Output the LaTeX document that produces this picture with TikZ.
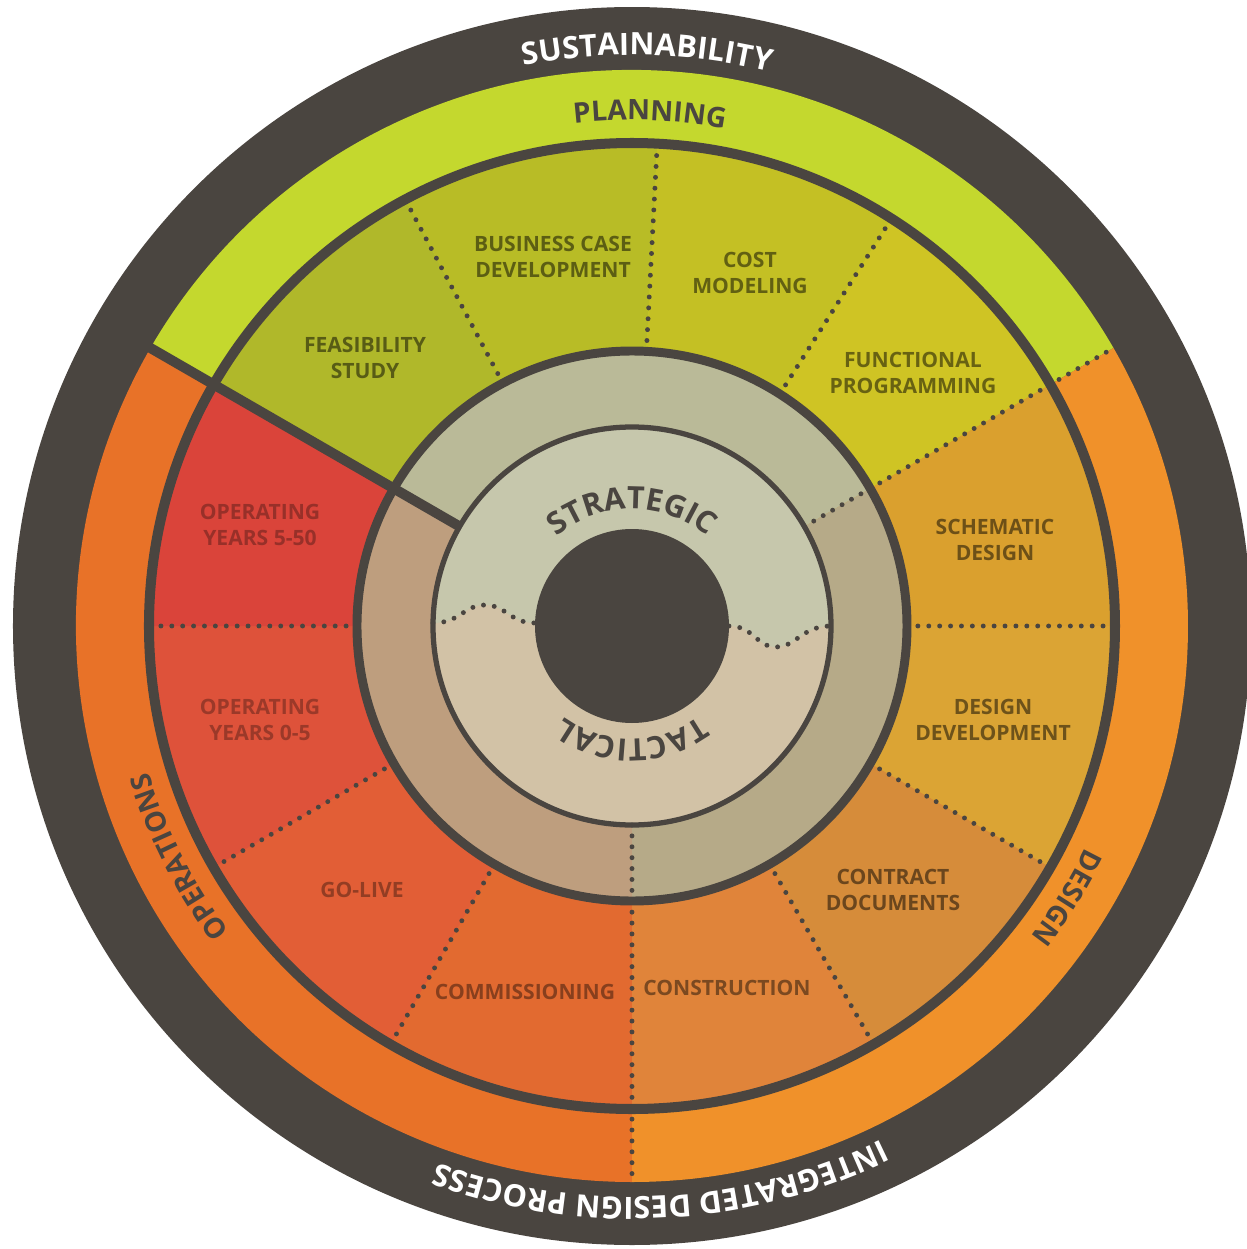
\documentclass[tikz,border=0pt]{standalone}
\usepackage{fontspec}
\setmainfont{Open Sans}
\usetikzlibrary{decorations.text}

% cores
\definecolor{escuro}{RGB}{74,69,64}
\definecolor{planning}{RGB}{196,216,46}
\definecolor{design}{RGB}{240,145,42}
\definecolor{operations}{RGB}{232,114,40}
\definecolor{feasib}{RGB}{176,184,42}
\definecolor{business}{RGB}{184,188,38}
\definecolor{cost}{RGB}{196,192,36}
\definecolor{functional}{RGB}{207,196,36}
\definecolor{schematic}{RGB}{218,160,46}
\definecolor{designdev}{RGB}{219,164,52}
\definecolor{contract}{RGB}{214,140,58}
\definecolor{construction}{RGB}{224,132,58}
\definecolor{commissioning}{RGB}{226,106,48}
\definecolor{golive}{RGB}{226,94,54}
\definecolor{opzero}{RGB}{222,82,58}
\definecolor{opfive}{RGB}{218,68,58}
\definecolor{tanupper}{RGB}{186,186,152}
\definecolor{tanright}{RGB}{182,170,136}
\definecolor{tanleft}{RGB}{190,158,126}
\definecolor{strategic}{RGB}{198,199,172}
\definecolor{tactical}{RGB}{210,194,166}

\begin{document}
\begin{tikzpicture}[x=0.02cm, y=0.02cm,
    pontos/.style={escuro, line width=2.8pt, line cap=round, dash pattern=on 0pt off 6.2pt},
    rotulo/.style={font=\bfseries\fontsize{12}{15}\selectfont, align=center}]
      \fill[white, use as bounding box] (-632,-623) rectangle (615,626);

      % Anel externo
      \fill[escuro] (0,0) circle (619);

      % Fases
      \fill[planning] (0,0) -- (30:556) arc[start angle=30, end angle=150, radius=556] -- cycle;
      \fill[design] (0,0) -- (-90:556) arc[start angle=-90, end angle=30, radius=556] -- cycle;
      \fill[operations] (0,0) -- (150:556) arc[start angle=150, end angle=270, radius=556] -- cycle;

      % Etapas
      \fill[feasib] (0,0) -- (118:483) arc[start angle=118, end angle=150, radius=483] -- cycle;
      \fill[business] (0,0) -- (87:483) arc[start angle=87, end angle=118, radius=483] -- cycle;
      \fill[cost] (0,0) -- (57.5:483) arc[start angle=57.5, end angle=87, radius=483] -- cycle;
      \fill[functional] (0,0) -- (30:483) arc[start angle=30, end angle=57.5, radius=483] -- cycle;
      \fill[schematic] (0,0) -- (0:483) arc[start angle=0, end angle=30, radius=483] -- cycle;
      \fill[designdev] (0,0) -- (-30:483) arc[start angle=-30, end angle=0, radius=483] -- cycle;
      \fill[contract] (0,0) -- (-60:483) arc[start angle=-60, end angle=-30, radius=483] -- cycle;
      \fill[construction] (0,0) -- (-90:483) arc[start angle=-90, end angle=-60, radius=483] -- cycle;
      \fill[commissioning] (0,0) -- (-120:483) arc[start angle=-120, end angle=-90, radius=483] -- cycle;
      \fill[golive] (0,0) -- (-150:483) arc[start angle=-150, end angle=-120, radius=483] -- cycle;
      \fill[opzero] (0,0) -- (180:483) arc[start angle=180, end angle=210, radius=483] -- cycle;
      \fill[opfive] (0,0) -- (150:483) arc[start angle=150, end angle=180, radius=483] -- cycle;

      % Anel do meio
      \fill[tanupper] (0,0) -- (30:275) arc[start angle=30, end angle=150, radius=275] -- cycle;
      \fill[tanright] (0,0) -- (-90:275) arc[start angle=-90, end angle=30, radius=275] -- cycle;
      \fill[tanleft] (0,0) -- (150:275) arc[start angle=150, end angle=270, radius=275] -- cycle;

      % Centro
      \fill[tactical] (0,0) circle (199);
      \fill[strategic] (-199,3) .. controls (-172,3) and (-168,21) .. (-147,21)
        .. controls (-126,21) and (-122,3) .. (-97,3) -- (97,0)
        .. controls (122,0) and (124,-21) .. (144,-21)
        .. controls (164,-21) and (170,0) .. (199,0)
        arc[start angle=0, end angle=180, radius=199] -- cycle;
      \draw[pontos] (-199,3) .. controls (-172,3) and (-168,21) .. (-147,21)
        .. controls (-126,21) and (-122,3) .. (-97,3);
      \draw[pontos] (97,0) .. controls (122,0) and (124,-21) .. (144,-21)
        .. controls (164,-21) and (170,0) .. (199,0);

      % Divisoes
      \draw[pontos] (118:275) -- (118:483);
      \draw[pontos] (87:275) -- (87:483);
      \draw[pontos] (57.5:275) -- (57.5:483);
      \draw[pontos] (0:275) -- (0:483);
      \draw[pontos] (-30:275) -- (-30:483);
      \draw[pontos] (-60:275) -- (-60:483);
      \draw[pontos] (-120:275) -- (-120:483);
      \draw[pontos] (-150:275) -- (-150:483);
      \draw[pontos] (180:275) -- (180:483);
      \draw[pontos] (30:199) -- (30:556);
      \draw[pontos] (-90:199) -- (-90:556);

      % Circulos
      \draw[escuro, line width=5.7pt] (0,0) circle (483);
      \draw[escuro, line width=5.1pt] (0,0) circle (275);
      \draw[escuro, line width=3pt] (0,0) circle (199);
      \draw[escuro, line width=5.7pt] (150:199) -- (150:560);
      \fill[escuro] (0,0) circle (97);

      % Textos curvos
      \path[decorate, decoration={text along path, text align=center, text color=white,
        text={|\bfseries\fontsize{17.5}{20}\selectfont|SUSTAINABILITY}}]
        (128.5:571) arc[start angle=128.5, end angle=48.5, radius=571];
      \path[decorate, decoration={text along path, text align=center, text color=white,
        text={|\bfseries\fontsize{17.5}{20}\selectfont|INTEGRATED DESIGN PROCESS}}]
        (-37:571) arc[start angle=-37, end angle=-137, radius=571];
      \path[decorate, decoration={text along path, text align=center, text color=escuro,
        text={|\bfseries\fontsize{16}{18}\selectfont|PLANNING}}]
        (128:506) arc[start angle=128, end angle=48, radius=506];
      \path[decorate, decoration={text along path, text align=center, text color=escuro,
        text={|\bfseries\fontsize{16}{18}\selectfont|DESIGN}}]
        (-2:505) arc[start angle=-2, end angle=-62, radius=505];
      \path[decorate, decoration={text along path, text align=center, text color=escuro,
        text={|\bfseries\fontsize{16}{18}\selectfont|OPERATIONS}}]
        (237:505) arc[start angle=237, end angle=177, radius=505];
      \path[decorate, decoration={text along path, text align=center, text color=escuro,
        text={|\bfseries\fontsize{17.5}{20}\selectfont|STRATEGIC}}]
        (150:117) arc[start angle=150, end angle=30, radius=117];
      \path[decorate, decoration={text along path, text align=center, text color=escuro,
        text={|\bfseries\fontsize{17.5}{20}\selectfont|TACTICAL}}]
        (-30:113) arc[start angle=-30, end angle=-150, radius=113];

      % Etapas (rotulos)
      \node[rotulo, text=feasib!50!black] (feasibility) at (-267,268) {FEASIBILITY\\STUDY};
      \node[rotulo, text=business!50!black] (businesscase) at (-79,369) {BUSINESS CASE\\DEVELOPMENT};
      \node[rotulo, text=cost!50!black] (costmodel) at (118,353) {COST\\MODELING};
      \node[rotulo, text=functional!50!black] (functprog) at (281,253) {FUNCTIONAL\\PROGRAMMING};
      \node[rotulo, text=schematic!50!black] (schemdesign) at (363,86) {SCHEMATIC\\DESIGN};
      \node[rotulo, text=designdev!50!black] (designdevel) at (361,-94) {DESIGN\\DEVELOPMENT};
      \node[rotulo, text=contract!50!black] (contractdocs) at (261,-264) {CONTRACT\\DOCUMENTS};
      \node[rotulo, text=construction!55!black] (constr) at (95,-362) {CONSTRUCTION};
      \node[rotulo, text=commissioning!60!black] (commiss) at (-107,-366) {COMMISSIONING};
      \node[rotulo, text=golive!65!black] (golivestage) at (-270,-264) {GO-LIVE};
      \node[rotulo, text=opzero!70!black] (opyearszero) at (-372,-94) {OPERATING\\YEARS 0-5};
      \node[rotulo, text=opfive!70!black] (opyearsfive) at (-372,101) {OPERATING\\YEARS 5-50};

    \end{tikzpicture}
\end{document}
